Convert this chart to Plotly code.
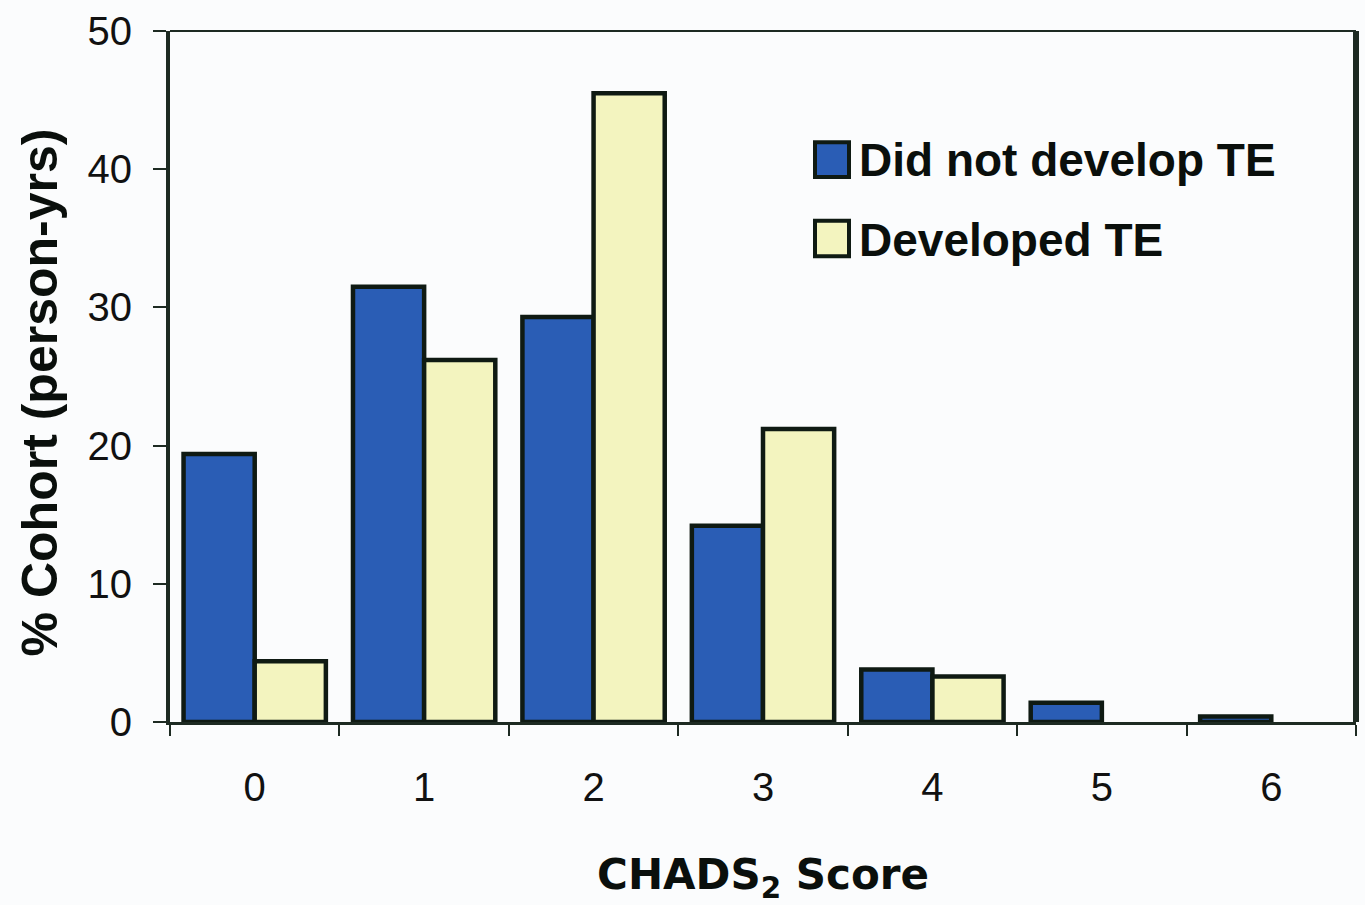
import plotly.graph_objects as go

scores = ["0", "1", "2", "3", "4", "5", "6"]
did_not_develop = [19.4, 31.5, 29.3, 14.2, 3.8, 1.4, 0.4]
developed = [4.4, 26.2, 45.5, 21.2, 3.3, None, None]
series_names = ["Did not develop TE", "Developed TE"]
y_ticks = [0, 10, 20, 30, 40, 50]

BLUE = "#2a5db5"
YELLOW = "#f3f4bf"
EDGE = "#0f1a13"
BG = "#fbfcfd"
FONT = "Liberation Sans, Arial, sans-serif"
FONT_B = "DejaVu Sans, Liberation Sans, sans-serif"

W, H = 1365, 905
L, R, T, B = 170, 9, 26, 183
pw, ph = W - L - R, H - T - B

def px(x):
    return (x - L) / pw

def py(y):
    return (H - B - y) / ph

fig = go.Figure()
fig.add_trace(go.Bar(x=scores, y=did_not_develop, name=series_names[0],
                     marker=dict(color=BLUE, line=dict(color=EDGE, width=4.5)),
                     showlegend=False))
fig.add_trace(go.Bar(x=scores, y=developed, name=series_names[1],
                     marker=dict(color=YELLOW, line=dict(color=EDGE, width=4.5)),
                     showlegend=False))

# custom legend (large swatches like the original)
legend_items = [(series_names[0], BLUE, 138, 173, 156), (series_names[1], YELLOW, 217, 253, 237)]
for name, col, y0, y1, yc in legend_items:
    fig.add_shape(type="rect", xref="paper", yref="paper",
                  x0=px(815), x1=px(849), y0=py(y1), y1=py(y0),
                  fillcolor=col, line=dict(color=EDGE, width=4))
    fig.add_annotation(xref="paper", yref="paper", x=px(857), y=py(yc),
                       xanchor="left", yanchor="middle", showarrow=False,
                       text="<b>" + name + "</b>",
                       font=dict(family=FONT, size=46, color="#0a0f0c"))

# y-axis title as rotated annotation (placed as in the original)
fig.add_annotation(xref="paper", yref="paper", x=px(40), y=py(390),
                   xanchor="center", yanchor="middle", showarrow=False, textangle=-90,
                   text="<b>% Cohort (person-yrs)</b>",
                   font=dict(family=FONT, size=50, color="#0a0f0c"))

# frame top and right
fig.add_shape(type="line", xref="paper", yref="paper", x0=0, x1=1, y0=1, y1=1,
              line=dict(color="#1d2a22", width=2))
fig.add_shape(type="line", xref="paper", yref="paper", x0=1, x1=1, y0=0, y1=1,
              line=dict(color="#1d2a22", width=6))

fig.update_layout(
    width=W, height=H,
    margin=dict(l=L, r=R, t=T, b=B),
    paper_bgcolor=BG, plot_bgcolor=BG,
    barmode="group", bargap=0.16, bargroupgap=0,
    font=dict(family=FONT, color="#0a0f0c"),
)
fig.update_xaxes(
    type="category", tickson="boundaries", ticks="outside", ticklen=11, tickwidth=2,
    tickcolor="#1d2a22", showline=True, linecolor="#1d2a22", linewidth=3,
    showgrid=False, tickfont=dict(size=40, color="#111"), ticklabelstandoff=28,
    title=dict(text="<b>CHADS<sub>2</sub> Score</b>",
               font=dict(family=FONT_B, size=42, color="#0a0f0c"), standoff=52),
)
fig.update_yaxes(
    range=[0, 50], tickvals=y_ticks, ticks="outside", ticklen=13, tickwidth=2,
    tickcolor="#1d2a22", showline=True, linecolor="#1d2a22", linewidth=4,
    showgrid=False, zeroline=False, tickfont=dict(size=40, color="#111"), ticklabelstandoff=13,
)

fig.write_html("out.html", config={"displayModeBar": False},
               post_script="document.body.style.margin='0px';document.body.style.overflow='hidden';")
